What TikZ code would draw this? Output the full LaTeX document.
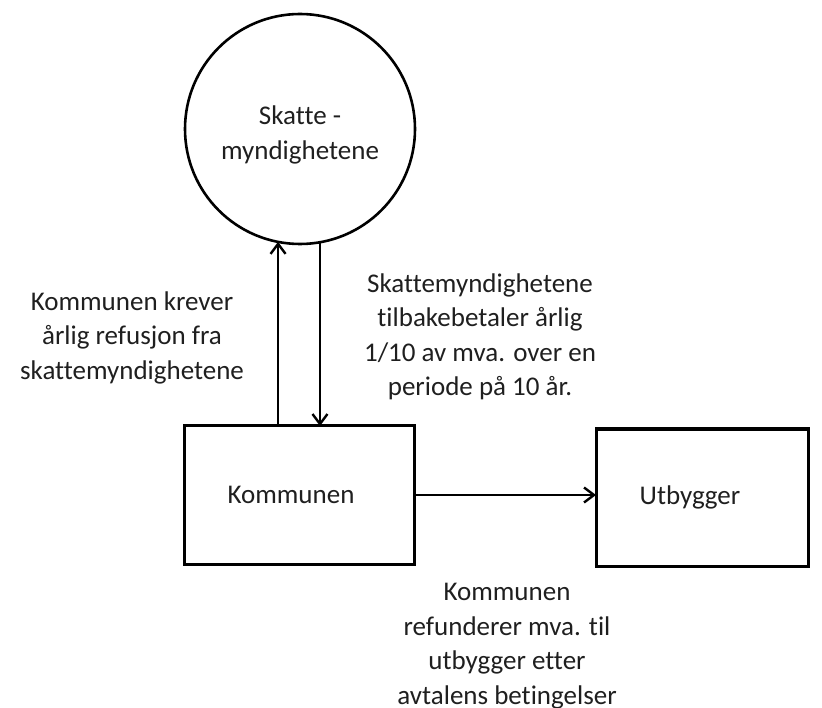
\documentclass[tikz,border=0pt]{standalone}
\usepackage{fontspec}
\setmainfont{Carlito}[Ligatures={NoCommon}]
\usetikzlibrary{arrows.meta}
\begin{document}
\begin{tikzpicture}[x=1pt,y=-1pt,
  txt/.style={font=\fontsize{27}{34.5}\selectfont, align=center, text=black!88, inner sep=0pt},
  boxnode/.style={draw, line width=3pt, rectangle, inner sep=0pt, outer sep=0pt},
  circnode/.style={draw, line width=2.6pt, circle, inner sep=0pt, outer sep=0pt, minimum size=230pt},
  flow/.style={line width=2.6pt, -{Straight Barb[length=10pt,width=15pt,line width=2.4pt]}}
]
\useasboundingbox (0,0) rectangle (822,708);

\node[circnode, label={[txt, yshift=-6pt]center:Skatte -\\myndighetene}] (sk) at (300,129) {};
\node[boxnode, minimum width=230pt, minimum height=138pt, label={[txt, xshift=-8pt]center:Kommunen}] (kom) at (299,495) {};
\node[boxnode, minimum width=212pt, minimum height=137pt, label={[txt, xshift=-12pt]center:Utbygger}] (utb) at (702,497.5) {};

\draw[flow] (sk.-101 |- kom.north) -- (sk.-101);
\draw[flow] (sk.-80) -- (sk.-80 |- kom.north);
\draw[flow] (kom.east) -- (kom.east -| utb.west);

\node[txt] (la) at (132,337.5) {Kommunen krever\\årlig refusjon fra\\skattemyndighetene};
\node[txt] (lb) at (480,337) {Skattemyndighetene\\tilbakebetaler årlig\\1/10 av mva. over en\\periode på 10 år.};
\node[txt] (lc) at (507,646) {Kommunen\\refunderer mva. til\\utbygger etter\\avtalens betingelser};
\end{tikzpicture}
\end{document}
